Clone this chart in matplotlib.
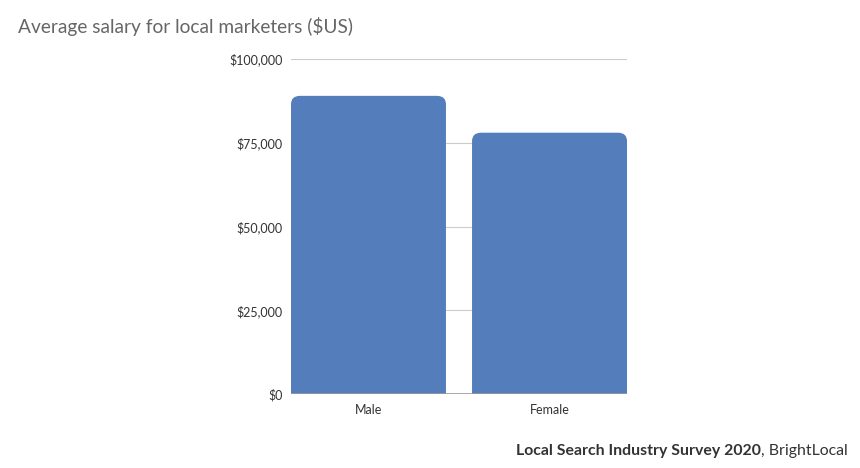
import matplotlib.pyplot as plt
from matplotlib.patches import FancyBboxPatch
from matplotlib.ticker import FuncFormatter

# 数据
categories = ["Male", "Female"]
salaries = [89000, 78000]
y_ticks = [0, 25000, 50000, 75000, 100000]

plt.rcParams['font.family'] = ['Lato', 'DejaVu Sans']

fig = plt.figure(figsize=(8.6, 4.68), dpi=100)
ax = fig.add_axes([291 / 860, 1 - 394 / 468, 336 / 860, 335 / 468])

bar_w = 0.856
bars = ax.bar(range(len(categories)), salaries, width=bar_w, color='none')

# 圆角柱子
rx = 0.05
ry = 2500
for b in bars:
    x0 = b.get_x()
    h = b.get_height()
    p = FancyBboxPatch((x0, -ry * 2), b.get_width(), h + ry * 2,
                       boxstyle="round,pad=0,rounding_size=%f" % rx,
                       mutation_aspect=ry / rx,
                       facecolor='#547dbc', edgecolor='none', zorder=3)
    ax.add_patch(p)

ax.set_xlim(-bar_w / 2, len(categories) - 1 + bar_w / 2)
ax.set_ylim(0, 100000)
ax.set_yticks(y_ticks)
ax.yaxis.set_major_formatter(FuncFormatter(lambda v, pos: "${:,.0f}".format(v)))
ax.set_xticks(range(len(categories)))
ax.set_xticklabels(categories)
ax.grid(axis='y', color='#cccccc', linewidth=0.8, zorder=0)
ax.axhline(0, color='#999999', linewidth=1.2, zorder=4)
for s in ax.spines.values():
    s.set_visible(False)
ax.tick_params(length=0, labelsize=9, colors='#333333')
ax.tick_params(axis='y', pad=6)
ax.tick_params(axis='x', pad=7)

fig.text(18 / 860, 1 - 27 / 468, "Average salary for local marketers ($US)",
         fontsize=13.8, color='#666666', va='center', ha='left')

t1 = fig.text(848 / 860, 1 - 451 / 468, ", BrightLocal", fontsize=11.4,
              color='#333333', ha='right', va='center')
fig.canvas.draw()
bb = t1.get_window_extent()
fig.text(bb.x0 / 860, 1 - 451 / 468, "Local Search Industry Survey 2020",
         fontsize=11.4, fontweight='bold', color='#333333', ha='right', va='center')

fig.savefig("out.png", dpi=100)
